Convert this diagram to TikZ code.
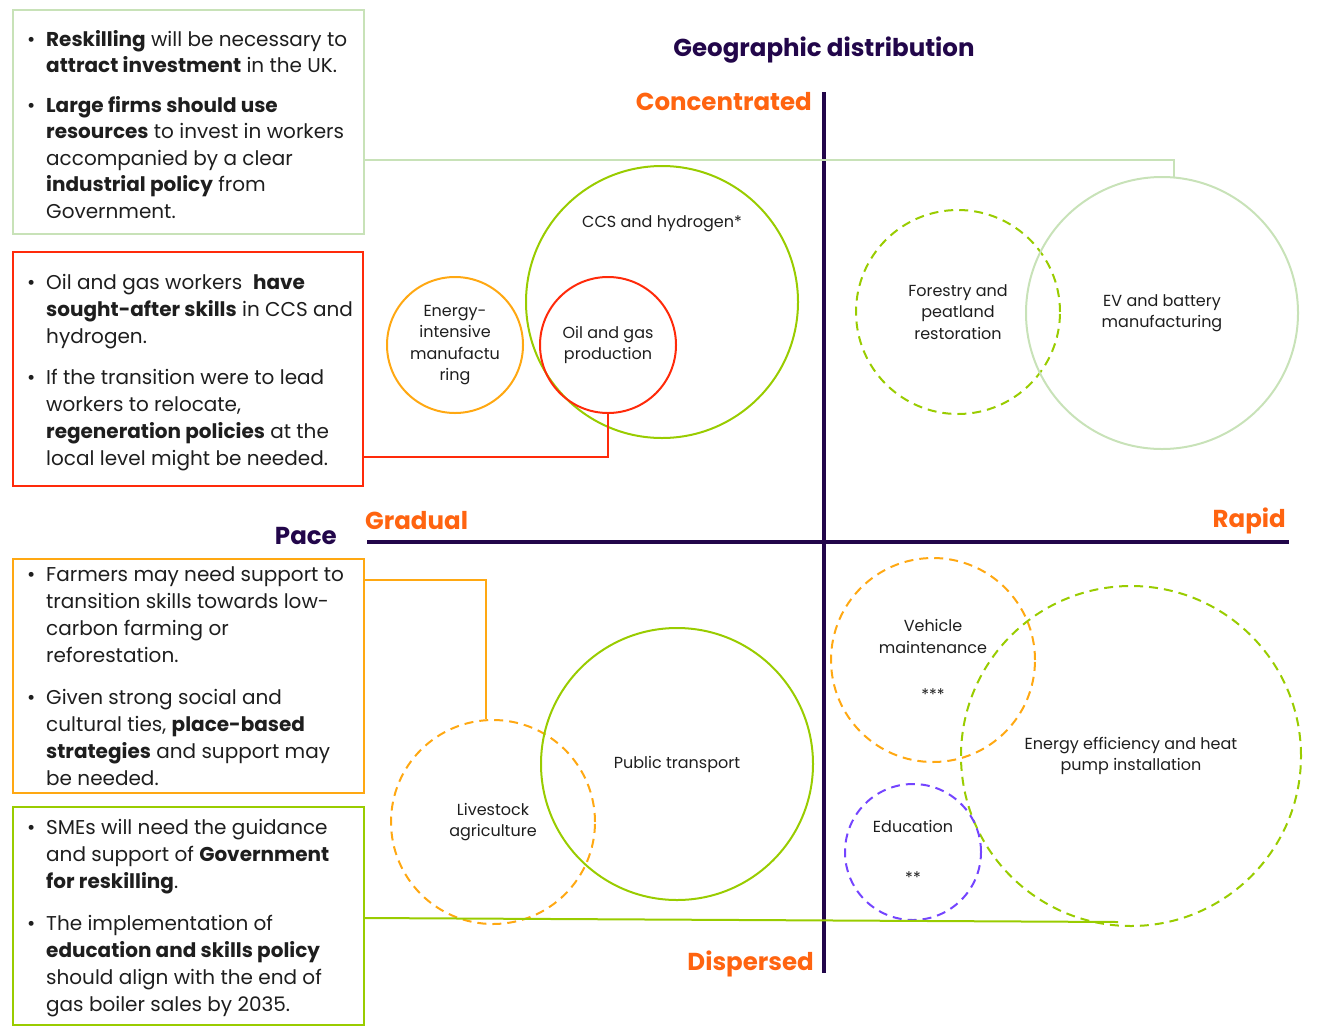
\documentclass[tikz,border=0pt]{standalone}
\usepackage{fontspec}
\setmainfont{Poppins}
\definecolor{dpurple}{HTML}{22064A}
\definecolor{lblorange}{HTML}{FF6410}
\definecolor{lgreen}{HTML}{C8E2B8}
\definecolor{ygreen}{HTML}{99CC00}
\definecolor{aorange}{HTML}{FFA812}
\definecolor{rred}{HTML}{FF2A0A}
\definecolor{vpurple}{HTML}{7444FF}
\definecolor{txt}{HTML}{1E1E1E}
\begin{document}
\begin{tikzpicture}[x=1pt,y=-1pt,
  boxnode/.style={draw, line width=2pt, rectangle, anchor=north west, inner sep=0pt},
  boxtext/.style={anchor=base west, inner sep=0pt, text=txt, font=\fontsize{20}{26.5}\selectfont},
  boxtextw/.style={boxtext, font=\fontsize{20}{27}\selectfont},
  ring/.style={circle, draw, line width=2pt, inner sep=0pt, text=txt, align=center, font=\fontsize{16}{21.5}\selectfont},
  dring/.style={ring, dash pattern=on 9pt off 6pt},
  conn/.style={line width=2pt},
  axisline/.style={draw=dpurple, line width=4pt},
  axlabel/.style={text=lblorange, font=\bfseries\fontsize{24.5}{28}\selectfont, inner sep=0pt},
  ttl/.style={text=dpurple, font=\bfseries\fontsize{24.5}{28}\selectfont, inner sep=0pt}
]
\useasboundingbox (0,0) rectangle (1343,1028);

% axes
\draw[axisline] (824,92) -- (824,973);
\draw[axisline] (367,542) -- (1289,542);

% titles and axis labels
\node[ttl] (geo) at (824,50) {Geographic distribution};
\node[ttl, anchor=east] (pace) at (337,536) {Pace};
\node[axlabel, anchor=east] (conc) at (812,102) {Concentrated};
\node[axlabel, anchor=west] (grad) at (365,521) {Gradual};
\node[axlabel, anchor=east] (rapid) at (1286,521) {Rapid};
\node[axlabel, anchor=east] (disp) at (814,964) {Dispersed};

% boxes
\node[boxnode, draw=lgreen, minimum width=351pt, minimum height=224pt] (b1) at (12,9) {};
\node[boxnode, draw=rred, minimum width=350pt, minimum height=234pt] (b2) at (12,251) {};
\node[boxnode, draw=aorange, minimum width=351pt, minimum height=234pt] (b3) at (12,558) {};
\node[boxnode, draw=ygreen, minimum width=351pt, minimum height=218pt] (b4) at (12,806) {};

\node[boxtext] (t1) at (27,46) {\begin{tabular}[t]{@{}p{13pt}@{\hspace{6pt}}l@{}}
\textbullet & \textbf{Reskilling} will be necessary to\\
 & \textbf{attract investment} in the UK.\\[13pt]
\textbullet & \textbf{Large firms should use}\\
 & \textbf{resources} to invest in workers\\
 & accompanied by a clear\\
 & \textbf{industrial policy} from\\
 & Government.
\end{tabular}};

\node[boxtextw] (t2) at (27,289) {\begin{tabular}[t]{@{}p{13pt}@{\hspace{6pt}}l@{}}
\textbullet & Oil and gas workers\ \ \textbf{have}\\
 & \textbf{sought-after skills} in CCS and\\
 & hydrogen.\\[14pt]
\textbullet & If the transition were to lead\\
 & workers to relocate,\\
 & \textbf{regeneration policies} at the\\
 & local level might be needed.
\end{tabular}};

\node[boxtextw] (t3) at (27,581) {\begin{tabular}[t]{@{}p{13pt}@{\hspace{6pt}}l@{}}
\textbullet & Farmers may need support to\\
 & transition skills towards low-\\
 & carbon farming or\\
 & reforestation.\\[15pt]
\textbullet & Given strong social and\\
 & cultural ties, \textbf{place-based}\\
 & \textbf{strategies} and support may\\
 & be needed.
\end{tabular}};

\node[boxtextw] (t4) at (27,834) {\begin{tabular}[t]{@{}p{13pt}@{\hspace{6pt}}l@{}}
\textbullet & SMEs will need the guidance\\
 & and support of \textbf{Government}\\
 & \textbf{for reskilling}.\\[15pt]
\textbullet & The implementation of\\
 & \textbf{education and skills policy}\\
 & should align with the end of\\
 & gas boiler sales by 2035.
\end{tabular}};

% circles - upper half
\node[ring, draw=ygreen, minimum size=272pt] (ccs) at (662,302) {};
\node[text=txt, font=\fontsize{16}{21.5}\selectfont, inner sep=0pt] (ccst) at (662,224) {CCS and hydrogen*};
\node[ring, draw=aorange, minimum size=136pt] (eim) at (455,345) {Energy-\\intensive\\manufactu\\ring};
\node[ring, draw=rred, minimum size=136pt] (oil) at (608,345) {Oil and gas\\production};
\node[dring, draw=ygreen, minimum size=204pt] (forest) at (958,312) {Forestry and\\peatland\\restoration};
\node[ring, draw=lgreen, minimum size=272pt] (ev) at (1162,313) {EV and battery\\manufacturing};

% circles - lower half
\node[dring, draw=aorange, minimum size=204pt] (live) at (493,822) {Livestock\\agriculture};
\node[ring, draw=ygreen, minimum size=272pt] (pub) at (677,764) {Public transport};
\node[dring, draw=aorange, minimum size=204pt] (veh) at (933,660) {Vehicle\\maintenance\\[26pt]***};
\node[dring, draw=ygreen, minimum size=340pt] (ee) at (1131,756) {Energy efficiency and heat\\pump installation};
\node[dring, draw=vpurple, minimum size=136pt] (edu) at (913,852) {Education\\[30pt]**};

% connectors
\coordinate (gEnd) at (1118,922);
\draw[conn, draw=lgreen] (b1.east |- 0,160) -| (ev.85);
\draw[conn, draw=rred] (b2.east |- 0,457) -| (oil.south);
\draw[conn, draw=aorange] (b3.east |- 0,580) -| (live.94);
\draw[conn, draw=ygreen] (b4.east |- 0,918) -- (gEnd);
\end{tikzpicture}
\end{document}
